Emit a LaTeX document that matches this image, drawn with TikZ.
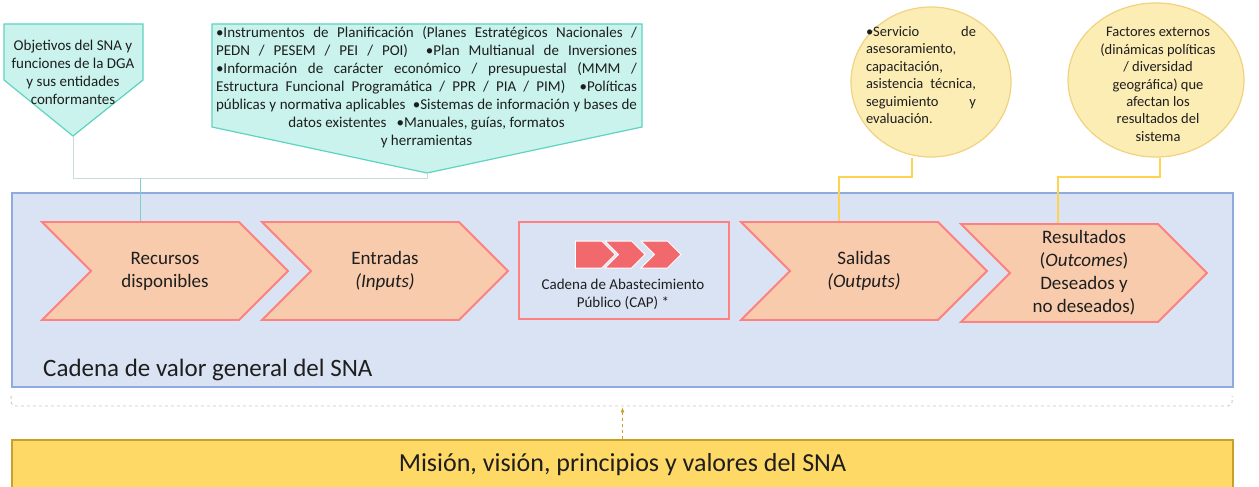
\documentclass[tikz,border=0pt]{standalone}
\usepackage{fontspec}
\setmainfont{Carlito}
\usetikzlibrary{shapes.symbols,shapes.geometric,arrows.meta}
\definecolor{panelfill}{HTML}{DAE3F3}
\definecolor{paneldraw}{HTML}{8FAADC}
\definecolor{chevfill}{HTML}{F8CBAD}
\definecolor{chevdraw}{HTML}{FF8080}
\definecolor{capred}{HTML}{F2696D}
\definecolor{tealfill}{HTML}{C9F3EC}
\definecolor{tealdraw}{HTML}{5ED3C3}
\definecolor{tealgrey}{HTML}{C5DEDD}
\definecolor{tealbranch}{HTML}{7FCFCB}
\definecolor{ellfill}{HTML}{FCEDB5}
\definecolor{elldraw}{HTML}{F1D27E}
\definecolor{goldline}{HTML}{FFD24F}
\definecolor{misfill}{HTML}{FFD966}
\definecolor{misdraw}{HTML}{C9A12A}
\definecolor{txt}{HTML}{1E1E1E}
\tikzset{
  chev/.style={signal, signal to=east, signal from=west, signal pointer angle=90,
    minimum width=246, minimum height=98, inner sep=0pt, fill=chevfill, draw=chevdraw,
    line width=1.8pt, align=center, text=txt, font=\fontsize{19}{23}\selectfont},
  minichev/.style={signal, signal to=east, signal pointer angle=90, minimum width=40,
    minimum height=27, inner sep=0pt, fill=capred, draw=white, line width=1pt},
  callout/.style={fill=tealfill, draw=tealdraw, line width=1.2pt},
  bubble/.style={ellipse, fill=ellfill, draw=elldraw, line width=1.2pt, inner sep=0pt},
  note/.style={align=center, inner sep=0pt, text=txt, font=\fontsize{15}{18}\selectfont},
  bubbletext/.style={align=center, inner sep=0pt, text=txt, font=\fontsize{14.5}{17.4}\selectfont},
  tealcon/.style={draw=tealgrey, line width=1pt},
  goldcon/.style={draw=goldline, line width=1.8pt},
}
\begin{document}
\begin{tikzpicture}[x=1pt, y=-1pt]
\useasboundingbox (0,0) rectangle (1259,487);
\node[fill=panelfill, draw=paneldraw, line width=1.8pt, minimum width=1221, minimum height=194] (panel) at (622.5,290) {};
\node[anchor=west, text=txt, inner sep=0pt, font=\fontsize{25}{30}\selectfont] (panellabel) at (43,370) {Cadena de valor general del SNA};
\node[chev] (rec) at (165,271) {Recursos\\disponibles};
\node[chev] (ent) at (385,271) {Entradas\\\textit{(Inputs)}};
\node[rectangle, fill=panelfill, draw=chevdraw, line width=1.8pt, minimum width=210, minimum height=97] (cap) at (624,270.5) {};
\node[minichev] (cap1) at (588.5,254.5) {};
\node[minichev, signal from=west] (cap2) at (625,254.5) {};
\node[minichev, signal from=west] (cap3) at (661,254.5) {};
\node[note] (captext) at (623,294) {Cadena de Abastecimiento\\Público (CAP) *};
\node[chev] (sal) at (864,271) {Salidas\\\textit{(Outputs)}};
\node[chev] (res) at (1084,273) {Resultados\\(\textit{Outcomes})\\Deseados y\\no deseados)};
\draw[callout] (4,24) -- (143,24) -- (143,80) -- (73,136) coordinate (objtip) -- (4,80) -- cycle;
\node[note] (obj) at (73,72) {Objetivos del SNA y\\funciones de la DGA\\y sus entidades\\conformantes};
\draw[callout] (212,24) -- (642,24) -- (642,127) -- (427,173) coordinate (instip) -- (212,127) -- cycle;
\node[note] (ins) at (426.5,87.5) {\makebox[421pt][s]{•Instrumentos de Planificación (Planes Estratégicos Nacionales /}\\
\makebox[421pt][s]{PEDN / PESEM / PEI / POI)\ \ •Plan Multianual de Inversiones}\\
\makebox[421pt][s]{•Información de carácter económico / presupuestal (MMM /}\\
\makebox[421pt][s]{Estructura Funcional Programática / PPR / PIA / PIM)\ \ •Políticas}\\
\makebox[421pt][s]{públicas y normativa aplicables\ \ •Sistemas de información y bases de}\\
datos existentes\ \ \ •Manuales, guías, formatos\\
y herramientas};
\node[bubble, minimum width=160, minimum height=150] (e1) at (931,82) {};
\node[bubbletext] (e1text) at (921,75) {\makebox[110pt][s]{•Servicio de}\\
\makebox[110pt][l]{asesoramiento,}\\
\makebox[110pt][l]{capacitación,}\\
\makebox[110pt][s]{asistencia técnica,}\\
\makebox[110pt][s]{seguimiento y}\\
\makebox[110pt][l]{evaluación.}};
\node[bubble, minimum width=176, minimum height=154] (e2) at (1156,80) {};
\node[bubbletext] (e2text) at (1158,84.5) {Factores externos\\(dinámicas políticas\\/ diversidad\\geográfica) que\\afectan los\\resultados del\\sistema};
\draw[tealcon] (objtip) -- ++(0,42) -| (instip);
\coordinate (tbranch) at (140,178);
\draw[draw=tealbranch, line width=1pt] (tbranch) -- (tbranch |- rec.north);
\draw[goldcon] ([xshift=-19]e1.south) -- ++(0,19) -| ([xshift=-25]sal.north);
\draw[goldcon] ([xshift=4]e2.south) -- ++(0,19) -| ([xshift=-26]res.north);
\draw[draw=black!22, dashed, line width=0.8pt, rounded corners=4] (panel.south west) ++(0,8) -- ++(0,10) -- ++(1221,0) -- ++(0,-10);
\node[fill=misfill, draw=misdraw, line width=1.2pt, minimum width=1221, minimum height=50, text=txt, font=\fontsize{26}{31}\selectfont] (mis) at (622.5,465) {Misión, visión, principios y valores del SNA};
\draw[draw=misdraw, dashed, line width=0.6pt, -{Latex[length=5pt,width=4pt]}] (mis.north) -- ++(0,-32);
\end{tikzpicture}
\end{document}
